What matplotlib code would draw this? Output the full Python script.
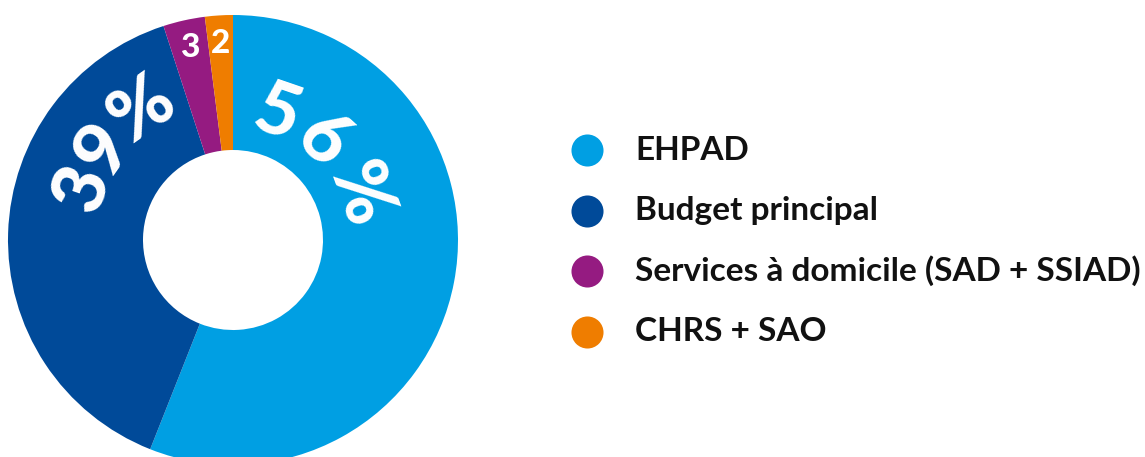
import numpy as np
import matplotlib
matplotlib.use("Agg")
import matplotlib.pyplot as plt

# data
labels = ["EHPAD", "Budget principal", "Services à domicile (SAD + SSIAD)", "CHRS + SAO"]
values = [56, 39, 3, 2]
colors = ["#009FE3", "#004A99", "#951B81", "#EF7D00"]

W, H = 1145, 457
fig = plt.figure(figsize=(W / 100, H / 100), dpi=100)
ax = fig.add_axes([0, 0, 1, 1])

cx, cy = 233, H - 240
r_out, r_in = 225, 90

ax.pie(values, colors=colors, radius=r_out, center=(cx, cy), startangle=90,
       counterclock=False, wedgeprops=dict(width=r_out - r_in, linewidth=0))
ax.set_xlim(0, W)
ax.set_ylim(0, H)
ax.set_aspect("equal")
ax.axis("off")


def curved(text, angles, radius, size):
    # place each character along the arc, angles clockwise from top
    for ch, a in zip(text, angles):
        t = np.radians(a)
        x = cx + radius * np.sin(t)
        y = cy + radius * np.cos(t)
        ax.text(x, y, ch, color="white", fontsize=size, fontweight="black",
                family="Lato", rotation=-a, ha="center", va="center",
                rotation_mode="anchor")


curved(f"{values[0]}%", [19, 42, 70], 134, 54)
curved(f"{values[1]}%", [289, 305, 325], 158, 54)

# small values, upright in the middle of their wedge
start = 0
for v, c in zip(values, colors):
    if v < 5:
        mid = np.radians((start + v / 2) / sum(values) * 360)
        ax.text(cx + 197 * np.sin(mid), cy + 197 * np.cos(mid), str(v),
                color="white", fontsize=24, fontweight="black", family="Lato",
                ha="center", va="center")
    start += v

# legend
for i, (lab, c) in enumerate(zip(labels, colors)):
    y = H - (150 + i * 60.5)
    ax.scatter([587], [y], s=32 ** 2 * 0.52, color=c, linewidths=0)
    ax.text(635, y, lab, fontsize=24, fontweight="bold", family="Lato",
            color="#111111", ha="left", va="center")

fig.savefig("out.png", dpi=100)
